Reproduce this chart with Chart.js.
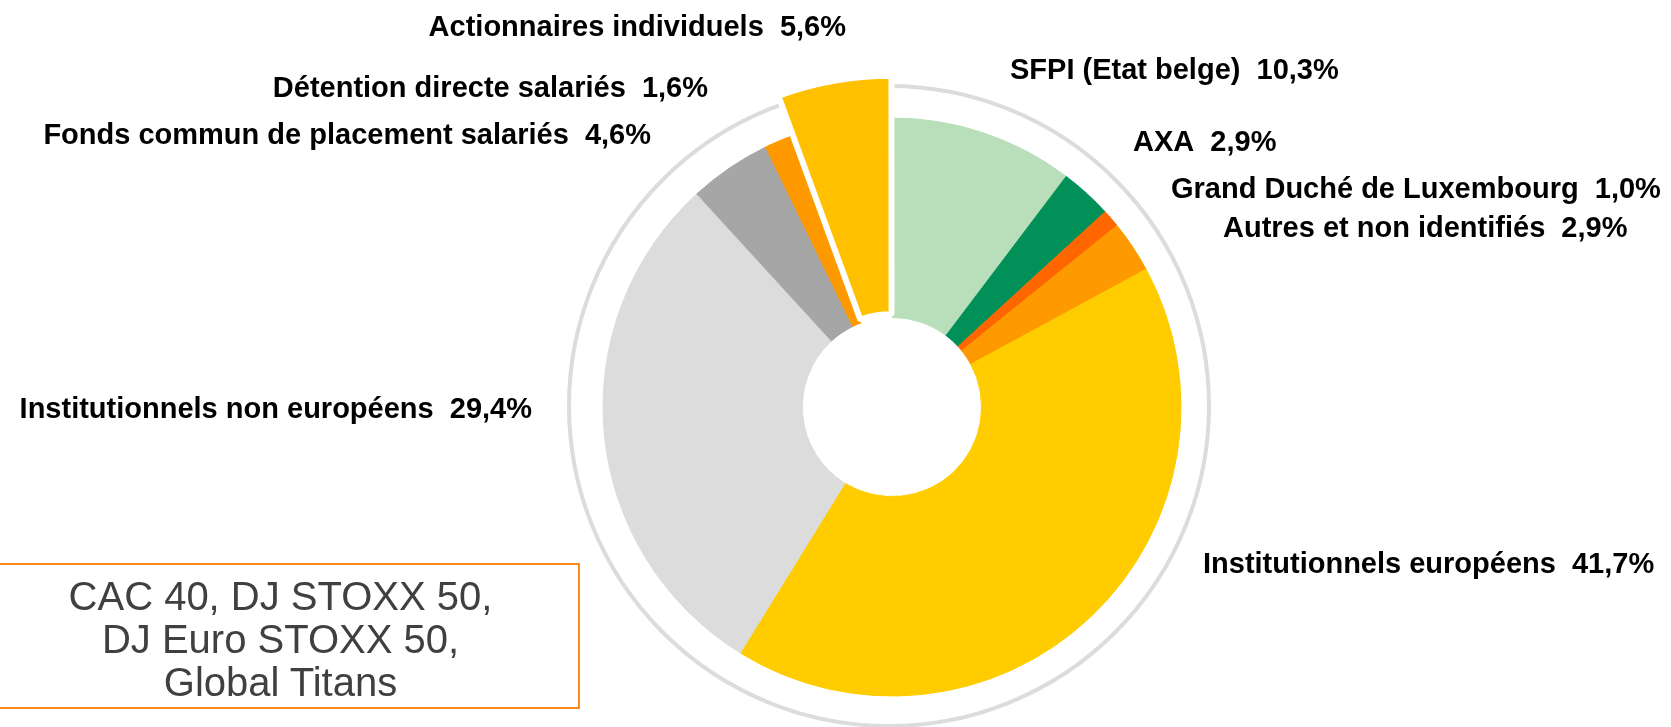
<!DOCTYPE html>
<html>
<head>
<meta charset="utf-8">
<script src="https://cdn.jsdelivr.net/npm/chart.js@4"></script>
<style>
  html, body { margin: 0; padding: 0; background: #fff; overflow: hidden; }
  #wrap { position: relative; width: 1671px; height: 727px; }
  #shareChart { position: absolute; left: 0; top: 0; }
  #indexBox {
    position: absolute; left: -19px; top: 563px; width: 599px; height: 146px;
    box-sizing: border-box; border: 2px solid #ff8c1a; padding-top: 10px;
    font: 40px "Liberation Sans", Arial, sans-serif; line-height: 43px;
    color: #404040; text-align: center;
  }
</style>
</head>
<body>
<div id="wrap">
  <canvas id="shareChart" width="1671" height="727"></canvas>
  <div id="indexBox">CAC 40, DJ STOXX 50,<br>DJ Euro STOXX 50,<br>Global Titans</div>
</div>
<script>
// shareholder categories, clockwise from 12 o'clock
var categories = [
    'SFPI (Etat belge)',
    'AXA',
    'Grand Duché de Luxembourg',
    'Autres et non identifiés',
    'Institutionnels européens',
    'Institutionnels non européens',
    'Fonds commun de placement salariés',
    'Détention directe salariés',
    'Actionnaires individuels'
];
var shares = [10.3, 2.9, 1.0, 2.9, 41.7, 29.4, 4.6, 1.6, 5.6];

var sliceColors = ['#b8dfba', '#009058', '#ff6600', '#ff9900', '#ffcc00',
                   '#dcdcdc', '#a6a6a6', '#ff9900', '#ffc000'];
// which slice is pulled out
var exploded = 8;
var explodeOffset = 8;   // chart.js offset
var explodeGrow = 39;    // extra outer radius for the pulled slice

// where each label sits (layout only)
var labelPos = [
    { x: 1010, y: 71,  align: 'left' },
    { x: 1133, y: 143, align: 'left' },
    { x: 1171, y: 190, align: 'left' },
    { x: 1223, y: 229, align: 'left' },
    { x: 1203, y: 565, align: 'left' },
    { x: 532,  y: 410, align: 'right' },
    { x: 651,  y: 136, align: 'right' },
    { x: 708,  y: 89,  align: 'right' },
    { x: 846,  y: 28,  align: 'right' }
];

function pct(v) {
    return v.toFixed(1).replace('.', ',') + '%';
}

// thin grey circle around the doughnut + bigger exploded slice
var ringPlugin = {
    id: 'ring',
    afterDatasetsUpdate: function(chart) {
        var arc = chart.getDatasetMeta(0).data[exploded];
        if (arc) arc.outerRadius += explodeGrow;
    },
    beforeDatasetsDraw: function(chart) {
        var arc = chart.getDatasetMeta(0).data[0];
        var ctx = chart.ctx;
        ctx.save();
        ctx.beginPath();
        ctx.arc(arc.x - 3, arc.y - 1, arc.outerRadius + 31, 0, Math.PI * 2);
        ctx.lineWidth = 4;
        ctx.strokeStyle = '#dcdcdc';
        ctx.stroke();
        ctx.restore();
    }
};

var labelPlugin = {
    id: 'sliceLabels',
    afterDatasetsDraw: function(chart) {
        var ctx = chart.ctx;
        ctx.save();
        ctx.font = 'bold 29px "Liberation Sans", Arial, sans-serif';
        ctx.fillStyle = '#000';
        ctx.textBaseline = 'middle';
        categories.forEach(function(name, i) {
            var p = labelPos[i];
            ctx.textAlign = p.align;
            ctx.fillText(name + '  ' + pct(shares[i]), p.x, p.y);
        });
        ctx.restore();
    }
};

var ctx = document.getElementById('shareChart').getContext('2d');
new Chart(ctx, {
    type: 'doughnut',
    data: {
        labels: categories,
        datasets: [{
            data: shares,
            backgroundColor: sliceColors,
            borderColor: sliceColors.map(function(c, i) { return i === exploded ? '#ffffff' : c; }),
            borderWidth: sliceColors.map(function(c, i) { return i === exploded ? 6 : 1; }),
            offset: sliceColors.map(function(c, i) { return i === exploded ? explodeOffset : 0; }),
            hoverOffset: 0
        }]
    },
    options: {
        responsive: false,
        animation: false,
        rotation: 0,
        radius: 289,
        cutout: '31%',
        layout: {
            padding: { left: 582, right: 469, top: 97, bottom: 10 }
        },
        plugins: {
            legend: { display: false },
            tooltip: { enabled: false }
        },
        events: []
    },
    plugins: [ringPlugin, labelPlugin]
});
</script>
</body>
</html>
